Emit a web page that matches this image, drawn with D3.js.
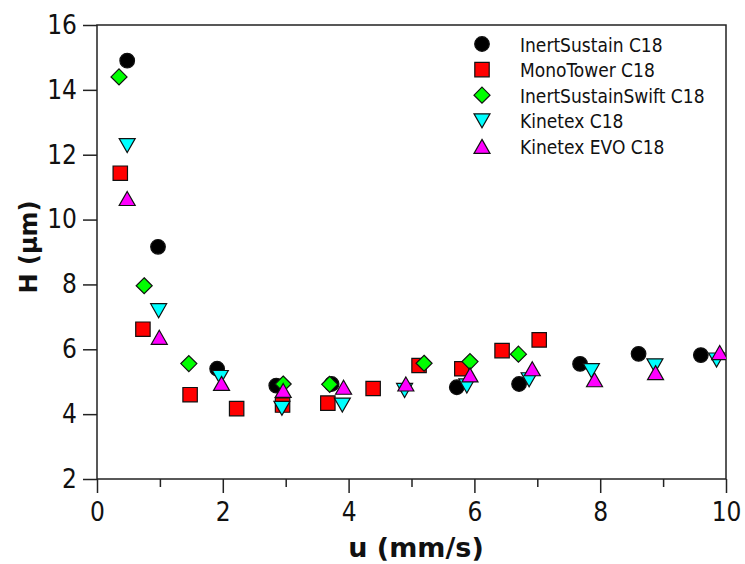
<!DOCTYPE html>
<html>
<head>
<meta charset="utf-8">
<script src="https://cdn.jsdelivr.net/npm/d3@7"></script>
<style>
  body { margin: 0; background: #fff; }
  svg { display: block; }
  text { font-family: 'DejaVu Sans Condensed', 'DejaVu Sans', sans-serif; }
  .title { font-family: 'DejaVu Sans', sans-serif; }
</style>
</head>
<body>
<svg id="chart"></svg>
<script>
// series (u in mm/s, H in um)
const inertSustain = [
  [0.48, 14.9], [0.97, 9.16], [1.91, 5.40], [2.85, 4.88], [3.73, 4.93],
  [5.72, 4.83], [6.71, 4.93], [7.68, 5.55], [8.61, 5.86], [9.60, 5.82]
]
const monoTower = [
  [0.37, 11.43], [0.73, 6.62], [1.48, 4.60], [2.22, 4.17], [2.95, 4.28],
  [3.67, 4.34], [4.39, 4.79], [5.12, 5.50], [5.80, 5.40], [6.44, 5.96], [7.03, 6.29]
]
const inertSustainSwift = [
  [0.35, 14.40], [0.75, 7.96], [1.46, 5.56], [2.96, 4.93], [3.70, 4.92],
  [5.20, 5.57], [5.93, 5.62], [6.70, 5.85]
]
const kinetex = [
  [0.48, 12.28], [0.98, 7.19], [1.96, 5.13], [2.94, 4.18], [3.90, 4.28],
  [4.89, 4.73], [5.88, 4.87], [6.87, 5.06], [7.86, 5.34], [8.87, 5.49], [9.85, 5.67]
]
const kinetexEvo = [
  [0.48, 10.65], [0.99, 6.37], [1.98, 4.95], [2.96, 4.73], [3.92, 4.83],
  [4.91, 4.93], [5.93, 5.21], [6.92, 5.40], [7.91, 5.06], [8.88, 5.28], [9.90, 5.90]
]

const seriesNames = ['InertSustain C18', 'MonoTower C18', 'InertSustainSwift C18', 'Kinetex C18', 'Kinetex EVO C18']
const seriesData = [inertSustain, monoTower, inertSustainSwift, kinetex, kinetexEvo]
const seriesShapes = ['circle', 'square', 'diamond', 'down', 'up']
const seriesColors = ['#000000', '#ff0000', '#00ff00', '#00ffff', '#ff00ff']

const xTicks = [0, 2, 4, 6, 8, 10]
const xMinorTicks = [1, 3, 5, 7, 9]
const yTicks = [2, 4, 6, 8, 10, 12, 14, 16]

const width = 745
const height = 564
const margin = { top: 25, right: 19, bottom: 85, left: 97 }

// marker outline, drawn around 0,0
function shapePath (shape) {
  switch (shape) {
    case 'circle':
      return 'M 7.3,0 A 7.3,7.3 0 1,1 -7.3,0 A 7.3,7.3 0 1,1 7.3,0 Z'
    case 'square':
      return 'M -7.2,-7.2 L 7.2,-7.2 L 7.2,7.2 L -7.2,7.2 Z'
    case 'diamond':
      return 'M 0,-8 L 8,0 L 0,8 L -8,0 Z'
    case 'down':
      return 'M -8,-7 L 8,-7 L 0,7 Z'
    case 'up':
      return 'M 0,-7 L 8,7 L -8,7 Z'
    default:
      return ''
  }
}

const svg = d3.select('#chart')
  .attr('width', width)
  .attr('height', height)

const x = d3.scaleLinear().domain([0, 10]).range([margin.left, width - margin.right])
const y = d3.scaleLinear().domain([2, 16]).range([height - margin.bottom, margin.top])

svg.append('defs').append('clipPath')
  .attr('id', 'plotClip')
  .append('rect')
  .attr('x', x(0))
  .attr('y', y(16))
  .attr('width', x(10) - x(0))
  .attr('height', y(2) - y(16))

// axes
const xAxis = svg.append('g')
  .attr('transform', 'translate(0,' + y(2) + ')')
  .call(d3.axisBottom(x).tickValues(xTicks).tickSize(14).tickPadding(10).tickFormat(d3.format('d')))
xAxis.append('g')
  .call(d3.axisBottom(x).tickValues(xMinorTicks).tickSize(8).tickFormat(''))
  .select('.domain').remove()

const yAxis = svg.append('g')
  .attr('transform', 'translate(' + x(0) + ',0)')
  .call(d3.axisLeft(y).tickValues(yTicks).tickSize(14).tickPadding(6).tickFormat(d3.format('d')))

svg.selectAll('.tick line').attr('stroke', '#222').attr('stroke-width', 1.5)
svg.selectAll('.tick text').attr('font-size', 26).attr('fill', '#111')
  .style('font-family', "'DejaVu Sans Condensed', 'DejaVu Sans', sans-serif")
xAxis.selectAll('.domain').remove()
yAxis.selectAll('.domain').remove()

// frame
svg.append('rect')
  .attr('x', x(0))
  .attr('y', y(16))
  .attr('width', x(10) - x(0))
  .attr('height', y(2) - y(16))
  .attr('fill', 'none')
  .attr('stroke', '#222')
  .attr('stroke-width', 1.5)

// points
const plot = svg.append('g').attr('clip-path', 'url(#plotClip)')
seriesData.forEach(function (data, i) {
  plot.selectAll('.s' + i)
    .data(data)
    .enter()
    .append('path')
    .attr('class', 's' + i)
    .attr('d', shapePath(seriesShapes[i]))
    .attr('transform', d => 'translate(' + x(d[0]) + ',' + y(d[1]) + ')')
    .attr('fill', seriesColors[i])
    .attr('stroke', '#111')
    .attr('stroke-width', 1.2)
})

// legend
const legend = svg.append('g').attr('transform', 'translate(482,44)')
seriesNames.forEach(function (name, i) {
  const row = legend.append('g').attr('transform', 'translate(0,' + (i * 25.6) + ')')
  row.append('path')
    .attr('d', shapePath(seriesShapes[i]))
    .attr('fill', seriesColors[i])
    .attr('stroke', '#111')
    .attr('stroke-width', 1.2)
  row.append('text')
    .attr('x', 38)
    .attr('y', 7.5)
    .attr('font-size', 19)
    .attr('fill', '#111')
    .text(name)
})

// axis titles
svg.append('text')
  .attr('class', 'title')
  .attr('x', 416)
  .attr('y', 557)
  .attr('text-anchor', 'middle')
  .attr('font-size', 27)
  .attr('font-weight', 'bold')
  .attr('fill', '#111')
  .text('u (mm/s)')

svg.append('text')
  .attr('class', 'title')
  .attr('transform', 'translate(37,247) rotate(-90)')
  .attr('text-anchor', 'middle')
  .attr('font-size', 24)
  .attr('font-weight', 'bold')
  .attr('fill', '#111')
  .text('H (µm)')
</script>
</body>
</html>
